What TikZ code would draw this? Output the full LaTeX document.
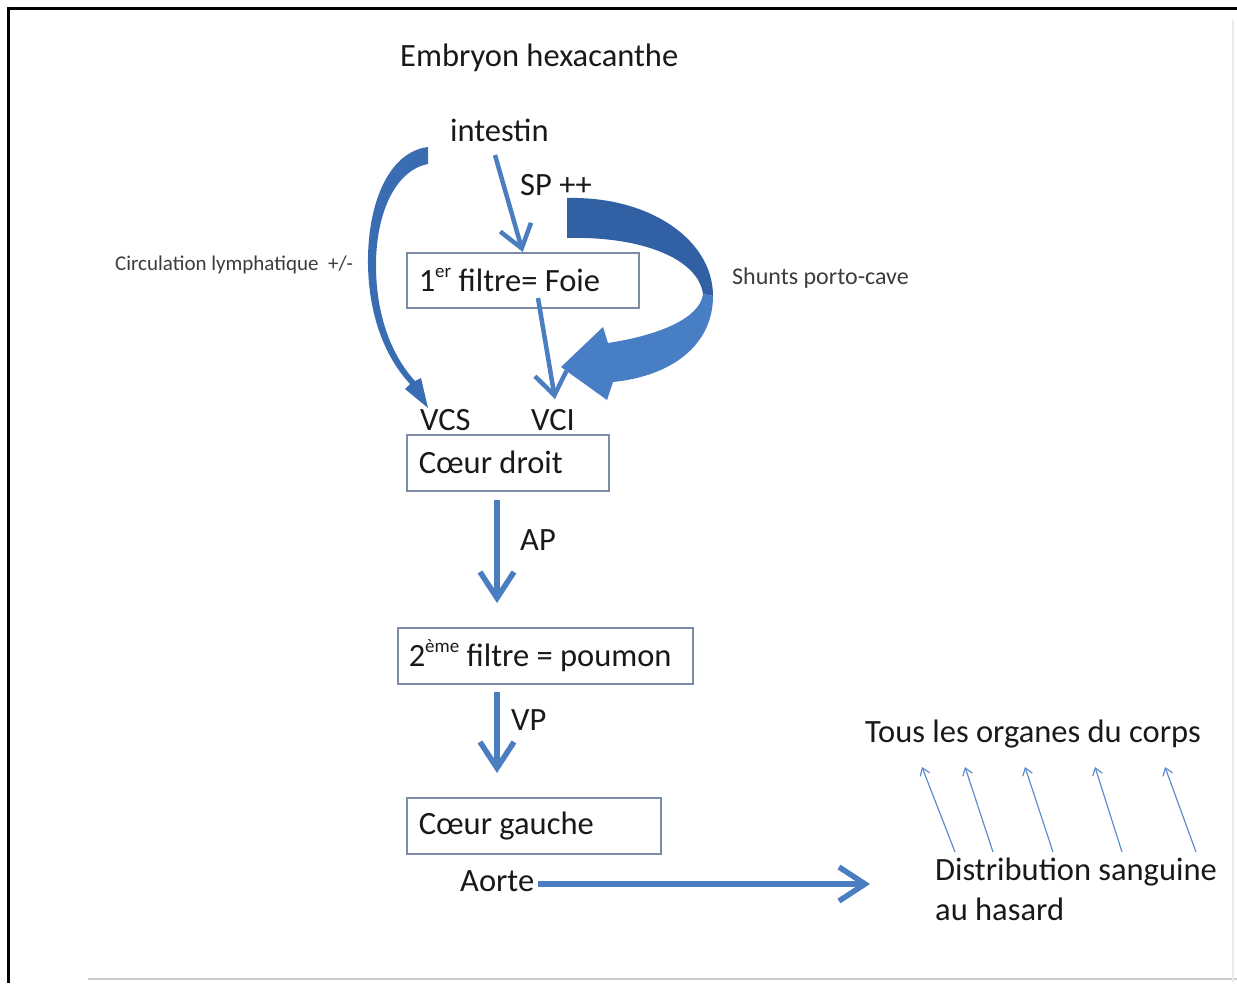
\documentclass[tikz,border=0pt]{standalone}
\usepackage{fontspec}
\setmainfont{Carlito}
\usetikzlibrary{arrows.meta,calc}
\definecolor{arrowblue}{RGB}{74,126,193}
\definecolor{shuntdark}{RGB}{50,96,164}
\definecolor{shuntlight}{RGB}{72,127,196}
\definecolor{lymphblue}{RGB}{58,108,178}
\definecolor{thinblue}{RGB}{95,140,205}
\definecolor{boxgray}{RGB}{125,140,165}
\definecolor{txt}{RGB}{25,25,25}
\definecolor{smalltxt}{RGB}{60,60,60}
\newcommand{\mysup}[1]{\raisebox{0.42em}{\fontsize{19}{20}\selectfont #1}}
\begin{document}
\begin{tikzpicture}[x=1pt,y=-1pt,
  lbl/.style={inner sep=0pt, anchor=base west, text=txt, font=\fontsize{32.5}{38}\selectfont},
  smalllbl/.style={inner sep=0pt, anchor=base west, text=smalltxt, font=\fontsize{21}{24}\selectfont},
  box/.style={draw=boxgray, line width=1.5pt, anchor=north west, inner xsep=12pt, inner ysep=0pt,
              align=flush left, text=txt, font=\fontsize{32.5}{38}\selectfont},
  flow/.style={draw=arrowblue, line width=4.5pt, -{Straight Barb[length=22pt,width=32pt]}},
  bigflow/.style={draw=arrowblue, line width=5.5pt, -{Straight Barb[length=26pt,width=34pt]}},
  thinarrow/.style={draw=thinblue, line width=1.2pt, -{Straight Barb[length=7pt,width=10pt]}}
]
\useasboundingbox (0,0) rectangle (1237,983);
% frame
\draw[black, line width=3pt] (8,983) -- (8,8) -- (1237,8);
\draw[black!20, line width=2pt] (88,979) -- (1237,979);
\draw[black!8, line width=1.5pt] (1233,20) -- (1233,983);

% labels
\node[lbl] (embryon) at (400,66) {Embryon hexacanthe};
\node[lbl] (intestin) at (450,141) {intestin};
\node[lbl] (sp) at (520,195) {SP ++};
\node[smalllbl] (lymph) at (115,270) {Circulation lymphatique\ \ +/-};
\node[smalllbl, font=\fontsize{24}{28}\selectfont] (shunt) at (732,284) {Shunts porto-cave};
\node[lbl] (vcs) at (420,430) {VCS};
\node[lbl] (vci) at (531,430) {VCI};
\node[lbl] (ap) at (520,550) {AP};
\node[lbl] (vp) at (511,730) {VP};
\node[lbl] (tous) at (865,742) {Tous les organes du corps};
\node[lbl] (aorte) at (460,891) {Aorte};
\node[lbl] (distrib) at (935,880) {Distribution sanguine};
\node[lbl] (hasard) at (935,920) {au hasard};

% boxes
\node[box, minimum width=232pt, minimum height=55pt, text width=208pt] (foie) at (406,252) {1\mysup{er} filtre= Foie};
\node[box, minimum width=202pt, minimum height=56pt, text width=178pt] (cdroit) at (406,434) {Cœur droit};
\node[box, minimum width=295pt, minimum height=56pt, text width=273pt, inner xsep=11pt] (poumon) at (397,627) {2\mysup{ème} filtre = poumon};
\node[box, minimum width=254pt, minimum height=56pt, text width=230pt] (cgauche) at (406,797) {Cœur gauche};

% coordinates for connectors
\coordinate (spstart) at (495,155);
\coordinate (foieout) at (538,298);
\coordinate (vcitip) at (555,399);
\coordinate (apstart) at (497,500);
\coordinate (apend) at (497,603);
\coordinate (vpstart) at (497,692);
\coordinate (vpend) at (497,773);
\coordinate (aortestart) at (538,884);
\coordinate (aorteend) at (870,884);

% straight arrows
\draw[flow] (spstart) -- (foie.north);
\draw[flow] (foieout) -- (vcitip);
\draw[bigflow] (apstart) -- (apend);
\draw[bigflow] (vpstart) -- (vpend);
\draw[bigflow] (aortestart) -- (aorteend);

% shunt porto-cave curved block arrow
\fill[shuntdark] (567,198) .. controls (650,196) and (713,240) .. (713,296)
  -- (703,294) .. controls (698,258) and (640,236) .. (567,238) -- cycle;
\fill[shuntlight] (713,296) .. controls (713,345) and (672,376) .. (613,382)
  -- (607,400) -- (561,367) -- (603,327) -- (608,343)
  .. controls (660,335) and (700,318) .. (703,294) -- cycle;

% lymphatic curved arrow
\fill[lymphblue] (428,147) .. controls (388,152) and (367,205) .. (368,265)
  .. controls (369,318) and (386,358) .. (410,384)
  -- (405,389) -- (428,408) -- (421,378) -- (415,381)
  .. controls (393,357) and (376,318) .. (376,265)
  .. controls (376,212) and (396,170) .. (428,164) -- cycle;

% thin arrows to organs
\foreach \i/\ax/\ay/\bx/\by in {1/955/852/922/767, 2/993/852/965/767, 3/1053/852/1025/767, 4/1122/852/1095/767, 5/1196/852/1165/767}{
  \coordinate (d\i) at (\ax,\ay);
  \coordinate (o\i) at (\bx,\by);
  \draw[thinarrow] (d\i) -- (o\i);
}
\end{tikzpicture}
\end{document}
